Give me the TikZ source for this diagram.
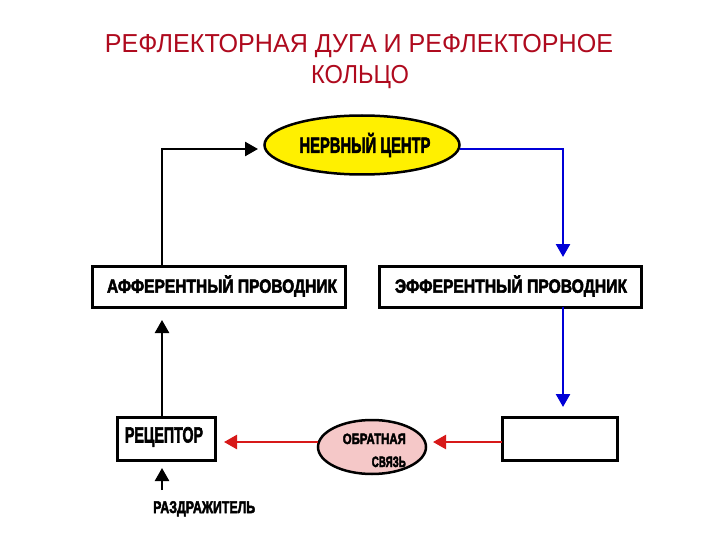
\documentclass[tikz,border=0pt]{standalone}
\usepackage{fontspec}
\usepackage{graphicx}
\setmainfont{Liberation Sans}
\newfontfamily\heavyfont[FakeBold=3]{Liberation Sans Bold}
\usetikzlibrary{arrows.meta,shapes.geometric}
\definecolor{titlered}{RGB}{175,10,30}
\definecolor{nerveyellow}{RGB}{255,240,0}
\definecolor{fbpink}{RGB}{245,200,200}
\definecolor{arrred}{RGB}{215,25,25}
\definecolor{arrblue}{RGB}{0,0,215}
\newcommand\fitw[3]{\resizebox{#1pt}{\height}{\fontsize{#2}{#2}\selectfont #3}}
\newcommand\hv[3]{\resizebox{#1pt}{\height}{\heavyfont\fontsize{#2}{#2}\selectfont #3}}
\tikzset{
  box/.style={draw=black, line width=3pt, fill=white, inner sep=0pt, rectangle},
  oval/.style={draw=black, line width=2.5pt, ellipse, inner sep=0pt},
  conn/.style={line width=2.5pt, -{Triangle[length=13pt,width=14pt]}},
  lbl/.style={inner sep=0pt}
}
\begin{document}
\begin{tikzpicture}[x=1pt,y=-1pt]
\path[use as bounding box, fill=white] (0,0) rectangle (720,540);
% title
\node[lbl, text=titlered, anchor=base] (t1) at (359,53) {\fitw{508}{26}{РЕФЛЕКТОРНАЯ ДУГА И РЕФЛЕКТОРНОЕ}};
\node[lbl, text=titlered, anchor=base] (t2) at (360,84) {\fitw{98}{26}{КОЛЬЦО}};
% nodes
\node[oval, fill=nerveyellow, minimum width=195pt, minimum height=59pt] (nc) at (362,145) {};
\node[lbl] (nct) at (365,145) {\hv{131}{22}{НЕРВНЫЙ ЦЕНТР}};
\node[box, minimum width=253pt, minimum height=41pt] (aff) at (218.5,286.5) {};
\node[lbl] (afft) at (222,286) {\hv{230}{19}{АФФЕРЕНТНЫЙ ПРОВОДНИК}};
\node[box, minimum width=262pt, minimum height=41pt] (eff) at (510,286.5) {};
\node[lbl] (efft) at (511,286) {\hv{232}{19}{ЭФФЕРЕНТНЫЙ ПРОВОДНИК}};
\node[box, minimum width=98pt, minimum height=43pt] (rec) at (166,438.5) {};
\node[lbl] (rect) at (164,437) {\hv{78}{22}{РЕЦЕПТОР}};
\node[box, minimum width=115pt, minimum height=43pt] (eo) at (559.5,438.5) {};
\node[oval, fill=fbpink, minimum width=108pt, minimum height=54pt] (fb) at (372,447) {};
\node[lbl, anchor=base east] (fb1) at (406,444) {\hv{63}{15}{ОБРАТНАЯ}};
\node[lbl, anchor=base east] (fb2) at (406,467) {\hv{34}{15}{СВЯЗЬ}};
\node[lbl, anchor=base west] (stim) at (153,513) {\hv{102}{17}{РАЗДРАЖИТЕЛЬ}};
% helper coordinates
\coordinate (a1) at (162,266);
\coordinate (a2) at (258,149);
\coordinate (b1) at (460,149);
\coordinate (b2) at (563,257);
\coordinate (c1) at (563,307);
\coordinate (c2) at (563,407);
\coordinate (d1) at (162,417);
\coordinate (d2) at (162,320);
\coordinate (s1) at (162,490);
\coordinate (s2) at (162,468);
\coordinate (r1) at (502,442);
\coordinate (r2) at (433,442);
\coordinate (r3) at (318,442);
\coordinate (r4) at (224,442);
% connectors
\draw[conn] (a1) |- (a2);
\draw[conn, arrblue] (b1) -| (b2);
\draw[conn, arrblue] (c1) -- (c2);
\draw[conn] (d1) -- (d2);
\draw[conn] (s1) -- (s2);
\draw[conn, arrred] (r1) -- (r2);
\draw[conn, arrred] (r3) -- (r4);
\end{tikzpicture}
\end{document}
